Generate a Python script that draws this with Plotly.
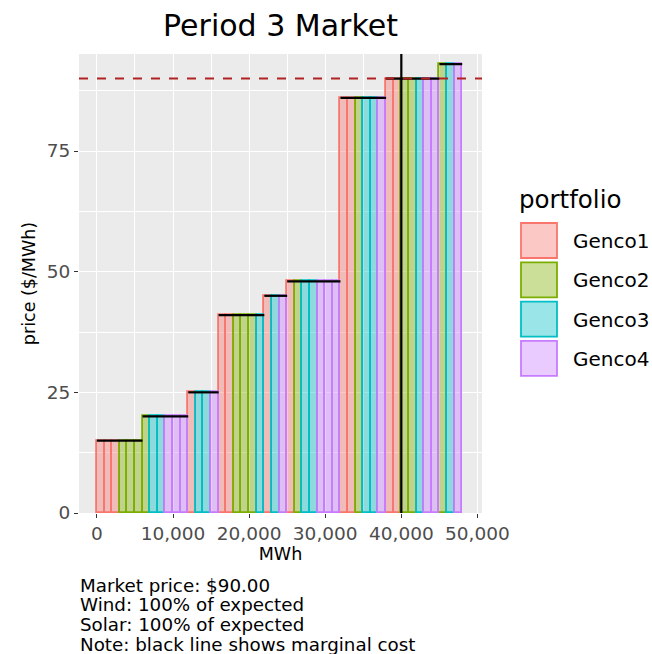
import plotly.graph_objects as go

# ---------------- data ----------------
step_prices = [15, 20, 25, 41, 45, 48, 86, 90, 93]
step_portfolios = [
    ["Genco1", "Genco1", "Genco1", "Genco2", "Genco2", "Genco2"],
    ["Genco2", "Genco3", "Genco3", "Genco4", "Genco4", "Genco4"],
    ["Genco1", "Genco3", "Genco3", "Genco4"],
    ["Genco1", "Genco1", "Genco2", "Genco2", "Genco2", "Genco3"],
    ["Genco1", "Genco3", "Genco4"],
    ["Genco1", "Genco2", "Genco3", "Genco3", "Genco4", "Genco4", "Genco4"],
    ["Genco1", "Genco1", "Genco2", "Genco3", "Genco3", "Genco4"],
    ["Genco1", "Genco1", "Genco2", "Genco2", "Genco3", "Genco4", "Genco4"],
    ["Genco2", "Genco3", "Genco4"],
]
block_mwh = 1000
portfolios = ["Genco1", "Genco2", "Genco3", "Genco4"]
market_price = 90.00
demand_mwh = 40000
x_tick_values = [0, 10000, 20000, 30000, 40000, 50000]
y_tick_values = [0, 25, 50, 75]
caption_lines = [
    "Market price: $90.00",
    "Wind: 100% of expected",
    "Solar: 100% of expected",
    "Note: black line shows marginal cost",
]

# ---------------- styles ----------------
line_colors = {"Genco1": "#F8766D", "Genco2": "#7CAE00", "Genco3": "#00BFC4", "Genco4": "#C77CFF"}
fill_colors = {"Genco1": "rgba(248,118,109,0.4)", "Genco2": "rgba(124,174,0,0.4)",
               "Genco3": "rgba(0,191,196,0.4)", "Genco4": "rgba(199,124,255,0.4)"}
FONT = "DejaVu Sans"
W, H = 652, 654
PL, PR, PT, PB = 79, 482, 54, 513
XR = [-2350, 50600]
YR = [0, 95.1]

# build blocks
bx = {p: [] for p in portfolios}
by = {p: [] for p in portfolios}
mc_x, mc_y = [], []
cum = 0
for price, plist in zip(step_prices, step_portfolios):
    start = cum
    for p in plist:
        bx[p].append(cum + block_mwh / 2)
        by[p].append(price)
        cum += block_mwh
    mc_x += [start, cum, None]
    mc_y += [price, price, None]

fig = go.Figure()
for p in portfolios:
    fig.add_trace(go.Bar(
        x=bx[p], y=by[p], width=block_mwh, name=p, showlegend=False,
        marker=dict(color=fill_colors[p], line=dict(color=line_colors[p], width=1.8)),
    ))

fig.add_trace(go.Scatter(x=mc_x, y=mc_y, mode="lines", showlegend=False,
                         line=dict(color="black", width=2.2)))

fig.add_shape(type="line", x0=demand_mwh, x1=demand_mwh, y0=0, y1=YR[1],
              xref="x", yref="y", line=dict(color="black", width=2.2))
fig.add_shape(type="line", x0=XR[0], x1=XR[1], y0=market_price, y1=market_price,
              xref="x", yref="y", line=dict(color="#B22222", width=2, dash="dash"))

def px_x(px):
    return (px - PL) / (PR - PL)

def px_y(py):
    return (PB - py) / (PB - PT)

# manual legend (ggplot style)
fig.add_annotation(text="portfolio", x=px_x(517), y=px_y(199), xref="paper", yref="paper",
                   xanchor="left", yanchor="middle", showarrow=False,
                   font=dict(family=FONT, size=24.5, color="black"))
for i, p in enumerate(portfolios):
    top = 222 + i * 39.3
    fig.add_shape(type="rect", xref="paper", yref="paper",
                  x0=px_x(521), x1=px_x(557), y0=px_y(top + 1), y1=px_y(top + 36),
                  fillcolor=fill_colors[p], line=dict(color=line_colors[p], width=1.8))
    fig.add_annotation(text=p, x=px_x(571), y=px_y(top + 19), xref="paper", yref="paper",
                       xanchor="left", yanchor="middle", showarrow=False,
                       font=dict(family=FONT, size=20, color="black"))

# caption (one line each, ggplot-like tight spacing)
for i, line in enumerate(caption_lines):
    fig.add_annotation(text=line, x=px_x(78), y=px_y(585 + i * 19.7),
                       xref="paper", yref="paper", xanchor="left", yanchor="middle",
                       align="left", showarrow=False,
                       font=dict(family=FONT, size=18.3, color="black"))

axis_common = dict(
    showgrid=True, gridcolor="white", gridwidth=1.3, zeroline=False,
    ticks="outside", ticklen=4, tickwidth=1.2, tickcolor="#333333",
    tickfont=dict(family=FONT, size=18.5, color="#4D4D4D"),
    showline=False,
)
fig.update_xaxes(**axis_common, range=XR, tickvals=x_tick_values, tickformat=",d",
                 minor=dict(tickvals=[5000, 15000, 25000, 35000, 45000], showgrid=True,
                            gridcolor="white", gridwidth=0.6, ticks=""),
                 title=dict(text="MWh", font=dict(family=FONT, size=17.5, color="black"), standoff=4))
fig.update_yaxes(**axis_common, range=YR, tickvals=y_tick_values,
                 minor=dict(tickvals=[12.5, 37.5, 62.5, 87.5], showgrid=True,
                            gridcolor="white", gridwidth=0.6, ticks=""),
                 title=dict(text="price ($/MWh)", font=dict(family=FONT, size=17.5, color="black"), standoff=6))

fig.update_layout(
    width=W, height=H, barmode="overlay", bargap=0,
    margin=dict(l=PL, r=W - PR, t=PT, b=H - PB, pad=0),
    plot_bgcolor="#EBEBEB", paper_bgcolor="white",
    title=dict(text="Period 3 Market", x=0.5, xref="paper", y=1 - 25 / H, yref="container",
               xanchor="center", yanchor="middle",
               font=dict(family=FONT, size=30, color="black")),
    font=dict(family=FONT),
)

fig.write_html("out.html", config={"displayModeBar": False},
               post_script="document.body.style.margin='0';document.body.style.overflow='hidden';")
